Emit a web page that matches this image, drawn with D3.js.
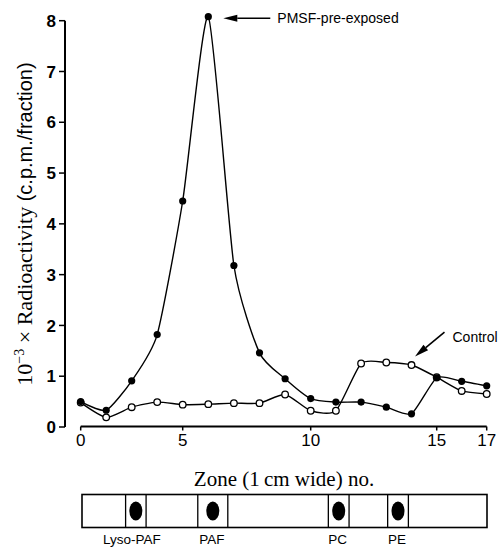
<!DOCTYPE html>
<html>
<head>
<meta charset="utf-8">
<script src="https://cdn.jsdelivr.net/npm/d3@7.9.0/dist/d3.min.js"></script>
<style>
  html, body { margin: 0; padding: 0; background: #fff; }
  svg { display: block; }
</style>
</head>
<body>
<svg id="chart" width="500" height="547"></svg>
<script>
// Zone positions of the fractions (first 5 cm cut in 1.25 cm steps)
const zones = [0, 1.25, 2.5, 3.75, 5, 6, 7, 8, 9, 10, 11, 12, 13, 14, 15, 16, 17];
// PMSF-pre-exposed (filled dots), 10^-3 x c.p.m./fraction
const pmsf = [0.50, 0.33, 0.91, 1.82, 4.45, 8.08, 3.18, 1.46, 0.95, 0.56, 0.49, 0.49, 0.39, 0.26, 0.97, 0.90, 0.81];
// Control (open dots)
const control = [0.48, 0.19, 0.39, 0.49, 0.44, 0.45, 0.47, 0.47, 0.64, 0.32, 0.32, 1.25, 1.27, 1.22, 0.98, 0.71, 0.65];

const xTicks = [0, 5, 10, 15, 17];
const yTicks = [0, 1, 2, 3, 4, 5, 6, 7, 8];

// TLC plate strip: spot bands along the plate (cm from origin)
const spotLabels = ["Lyso-PAF", "PAF", "PC", "PE"];
const spotFrom = [1.83, 4.86, 10.34, 12.83];
const spotTo = [2.69, 6.12, 11.21, 13.70];

const svg = d3.select('#chart');
const sans = '"Liberation Sans", Arial, Helvetica, sans-serif';
const serif = '"Liberation Serif", "Times New Roman", serif';

// the printed axis is not evenly spaced, so use a piecewise scale
const x = d3.scaleLinear()
  .domain([0, 5, 10, 15, 17])
  .range([80.7, 182.7, 310.7, 436.7, 486.7]);
const y = d3.scaleLinear().domain([0, 8]).range([427, 20.7]);

// axes
const yAxis = svg.append('g').attr('transform', 'translate(65,0)');
yAxis.append('line')
  .attr('x1', 0).attr('x2', 0).attr('y1', y(8)).attr('y2', y(0))
  .attr('stroke', '#000').attr('stroke-width', 2);
yAxis.selectAll('line.tick').data(yTicks).join('line')
  .attr('class', 'tick')
  .attr('x1', -6).attr('x2', 0)
  .attr('y1', d => y(d)).attr('y2', d => y(d))
  .attr('stroke', '#000').attr('stroke-width', 1.5);
yAxis.selectAll('text').data(yTicks).join('text')
  .attr('x', -9).attr('y', d => y(d))
  .attr('dy', '0.36em')
  .attr('text-anchor', 'end')
  .attr('font-family', sans).attr('font-weight', 'bold').attr('font-size', 17)
  .text(d => d);

const xAxis = svg.append('g').attr('transform', 'translate(0,426.5)');
xAxis.append('line')
  .attr('x1', x(0)).attr('x2', x(17))
  .attr('stroke', '#000').attr('stroke-width', 2);
xAxis.selectAll('line.tick').data(xTicks).join('line')
  .attr('class', 'tick')
  .attr('x1', d => x(d)).attr('x2', d => x(d))
  .attr('y1', 0).attr('y2', 4)
  .attr('stroke', '#000').attr('stroke-width', 1.5);
xAxis.selectAll('text').data(xTicks).join('text')
  .attr('x', d => x(d)).attr('y', 19.5)
  .attr('text-anchor', 'middle')
  .attr('font-family', sans).attr('font-size', 17)
  .text(d => d);

// axis titles
svg.append('text')
  .attr('x', 284).attr('y', 486)
  .attr('text-anchor', 'middle')
  .attr('font-family', serif).attr('font-size', 21)
  .text('Zone (1\u2009cm wide) no.');

const yt = svg.append('text')
  .attr('transform', 'translate(32,224) rotate(-90)')
  .attr('text-anchor', 'middle')
  .attr('font-size', 22);
yt.append('tspan').attr('font-family', serif).text('10');
yt.append('tspan').attr('font-family', serif).attr('font-size', 14).attr('dy', -8).text('\u22123');
yt.append('tspan').attr('font-family', serif).attr('dy', 8).text(' \u00d7 Radioactivity ');
yt.append('tspan').attr('font-family', sans).attr('font-size', 20).text('(c.p.m./fraction)');

// curves
const line = d3.line()
  .x((d, i) => x(zones[i]))
  .y(d => y(d))
  .curve(d3.curveCardinal.tension(0.4));

svg.append('path').datum(control)
  .attr('d', line).attr('fill', 'none')
  .attr('stroke', '#000').attr('stroke-width', 1.4);
svg.append('path').datum(pmsf)
  .attr('d', line).attr('fill', 'none')
  .attr('stroke', '#000').attr('stroke-width', 1.4);

svg.append('g').selectAll('circle').data(control).join('circle')
  .attr('cx', (d, i) => x(zones[i])).attr('cy', d => y(d))
  .attr('r', 3.3)
  .attr('fill', '#fff').attr('stroke', '#000').attr('stroke-width', 1.3);
svg.append('g').selectAll('circle').data(pmsf).join('circle')
  .attr('cx', (d, i) => x(zones[i])).attr('cy', d => y(d))
  .attr('r', 3.6)
  .attr('fill', '#000');

// annotations with arrows
function arrow(x1, y1, x2, y2) {
  const a = Math.atan2(y2 - y1, x2 - x1);
  const len = 14, w = 3.6;
  const bx = x2 - len * Math.cos(a), by = y2 - len * Math.sin(a);
  svg.append('line')
    .attr('x1', x1).attr('y1', y1).attr('x2', bx).attr('y2', by)
    .attr('stroke', '#000').attr('stroke-width', 1.6);
  svg.append('path')
    .attr('d', `M${x2},${y2}L${bx + w * Math.sin(a)},${by - w * Math.cos(a)}L${bx - w * Math.sin(a)},${by + w * Math.cos(a)}Z`)
    .attr('fill', '#000');
}

const peakX = x(zones[5]), peakY = y(pmsf[5]);
arrow(peakX + 62, peakY + 1.6, peakX + 15, peakY + 1.6);
svg.append('text')
  .attr('x', peakX + 69).attr('y', peakY + 6.8)
  .attr('font-family', sans).attr('font-size', 14)
  .text('PMSF-pre-exposed');

const cX = x(zones[13]), cY = y(control[13]);
arrow(cX + 33, cY - 33, cX + 3.5, cY - 8.5);
svg.append('text')
  .attr('x', cX + 41).attr('y', cY - 23)
  .attr('font-family', sans).attr('font-size', 14)
  .text('Control');

// TLC plate strip
const sx = d3.scaleLinear().domain([0, 17]).range([82, 487]);
const strip = svg.append('g');
const stripTop = 494.5, stripBot = 527.5;
strip.append('rect')
  .attr('x', sx(0)).attr('y', stripTop)
  .attr('width', sx(17) - sx(0)).attr('height', stripBot - stripTop)
  .attr('fill', 'none').attr('stroke', '#000').attr('stroke-width', 1.6);
const edges = spotFrom.concat(spotTo);
strip.selectAll('line').data(edges).join('line')
  .attr('x1', d => sx(d)).attr('x2', d => sx(d))
  .attr('y1', stripTop).attr('y2', stripBot)
  .attr('stroke', '#000').attr('stroke-width', 1.3);
strip.selectAll('ellipse').data(spotLabels).join('ellipse')
  .attr('cx', (d, i) => (sx(spotFrom[i]) + sx(spotTo[i])) / 2)
  .attr('cy', (stripTop + stripBot) / 2)
  .attr('rx', 6.5).attr('ry', 9.5)
  .attr('fill', '#000');
strip.selectAll('text').data(spotLabels).join('text')
  .attr('x', (d, i) => (sx(spotFrom[i]) + sx(spotTo[i])) / 2 - (i === 0 ? 4 : 1))
  .attr('y', 543.5)
  .attr('text-anchor', 'middle')
  .attr('font-family', sans).attr('font-size', 13.5)
  .text(d => d);
</script>
</body>
</html>
